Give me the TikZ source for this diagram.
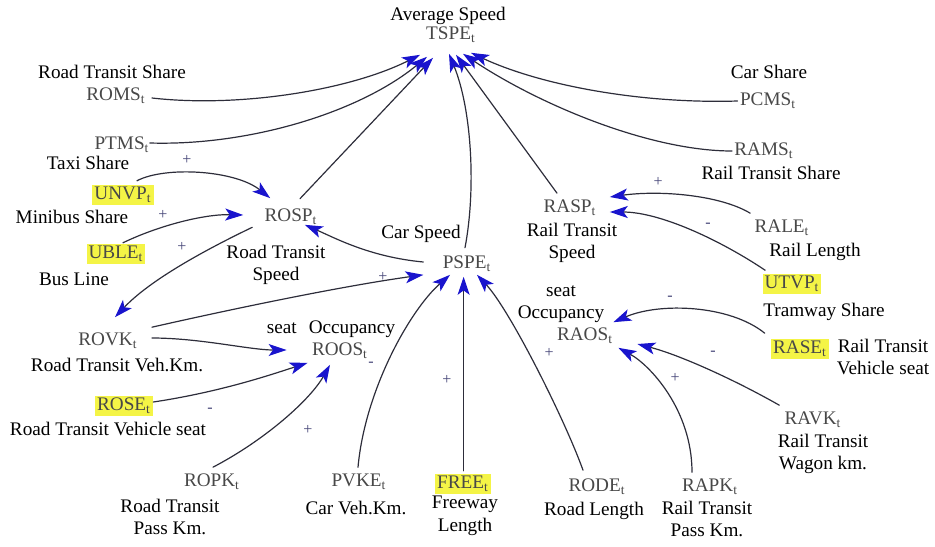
\documentclass[tikz,border=0pt]{standalone}
\usepackage{fontspec}
\setmainfont{Liberation Serif}
\usetikzlibrary{arrows.meta}
\definecolor{linkc}{RGB}{45,45,58}
\definecolor{tipc}{RGB}{25,20,205}
\definecolor{hl}{RGB}{244,244,70}
\definecolor{codc}{RGB}{72,72,72}
\definecolor{sgnc}{RGB}{70,70,120}
\newcommand{\vt}[1]{#1\textsubscript{t}}

\begin{document}
\begin{tikzpicture}[x=0.5pt, y=-0.5pt, font=\fontsize{9.6}{11.3}\selectfont, line join=round, line cap=round,
	>={Stealth[length=9pt, width=6pt, inset=2.2pt, color=tipc]},
	var/.style={text=codc, inner sep=1pt},
	hlvar/.style={var, fill=hl},
	desc/.style={align=center, inner sep=1pt},
	sgn/.style={text=sgnc, font=\fontsize{8}{9}\selectfont, inner sep=0pt},
	link/.style={->, draw=linkc, line width=0.6pt}]
	\useasboundingbox (0,0) rectangle (935,546);
	% --- variables
	\node[var] (tspe) at (451,35) {\vt{TSPE}};
	\node[var] (roms) at (116,96) {\vt{ROMS}};
	\node[var] (ptms) at (122,145) {\vt{PTMS}};
	\node[hlvar] (unvp) at (123,195) {\vt{UNVP}};
	\node[hlvar] (uble) at (116,254) {\vt{UBLE}};
	\node[var] (rosp) at (291,217) {\vt{ROSP}};
	\node[var] (pspe) at (467,264) {\vt{PSPE}};
	\node[var] (rovk) at (108,341) {\vt{ROVK}};
	\node[var] (roos) at (340,351) {\vt{ROOS}};
	\node[hlvar] (rose) at (124,406) {\vt{ROSE}};
	\node[var] (ropk) at (212,482) {\vt{ROPK}};
	\node[var] (pvke) at (359,482) {\vt{PVKE}};
	\node[hlvar] (free) at (463,484) {\vt{FREE}};
	\node[var] (rode) at (597,487) {\vt{RODE}};
	\node[var] (rapk) at (710,487) {\vt{RAPK}};
	\node[var] (ravk) at (813,420) {\vt{RAVK}};
	\node[hlvar] (rase) at (800,349) {\vt{RASE}};
	\node[var] (raos) at (585,336) {\vt{RAOS}};
	\node[hlvar] (utvp) at (792,284) {\vt{UTVP}};
	\node[var] (rale) at (782,228) {\vt{RALE}};
	\node[var] (rasp) at (570,208) {\vt{RASP}};
	\node[var] (rams) at (764,151) {\vt{RAMS}};
	\node[var] (pcms) at (768,101) {\vt{PCMS}};
	% --- descriptions
	\node[desc] (avg) at (448,16) {Average Speed};
	\node[desc] (romsd) at (112,72) {Road Transit Share};
	\node[desc] (ptmsd) at (88,163) {Taxi Share};
	\node[desc] (unvpd) at (72,217) {Minibus Share};
	\node[desc] (ubled) at (74,279) {Bus Line};
	\node[desc] (rospd) at (276,265) {Road Transit\\Speed};
	\node[desc] (psped) at (421,234) {Car Speed};
	\node[desc] (rovkd) at (117,365) {Road Transit Veh.Km.};
	\node[desc] (roosd) at (331,329) {seat\hspace{6pt}Occupancy};
	\node[desc] (rosed) at (108,429) {Road Transit Vehicle seat};
	\node[desc] (ropkd) at (170,517) {Road Transit\\Pass Km.};
	\node[desc] (pvked) at (356,508) {Car Veh.Km.};
	\node[desc] (freed) at (465,516) {Freeway\\Length};
	\node[desc] (roded) at (594,511) {Road Length};
	\node[desc] (rapkd) at (707,519) {Rail Transit\\Pass Km.};
	\node[desc] (ravkd) at (823,454) {Rail Transit\\Wagon km.};
	\node[desc] (rased) at (883,357) {Rail Transit\\Vehicle seat};
	\node[desc] (raosd) at (561,304) {seat\\Occupancy};
	\node[desc] (utvpd) at (824,312) {Tramway Share};
	\node[desc] (raled) at (815,252) {Rail Length};
	\node[desc] (raspd) at (572,243) {Rail Transit\\Speed};
	\node[desc] (ramsd) at (771,173) {Rail Transit Share};
	\node[desc] (pcmsd) at (769,72) {Car Share};
	% --- signs
	\foreach \x/\y/\s [count=\i] in {187/160/+, 163/215/+, 182/247/+, 383/277/+, 371/364/-, 210/410/-, 308/430/+,
		447/380/+, 549/353/+, 675/378/+, 713/353/-, 670/298/-, 708/225/-, 658/182/+}
		\node[sgn] (s\i) at (\x,\y) {\s};
	% --- links into TSPE
	\draw[link] ([shift={(4,2)}]roms.east) .. controls (240,108) and (350,90) .. ([shift={(-31,9.5)}]tspe.south);
	\draw[link] ([shift={(-2,-2)}]ptms.east) .. controls (250,146) and (360,112) .. ([shift={(-24,11.5)}]tspe.south);
	\draw[link] ([shift={(9,-8)}]rosp.north) -- ([shift={(-18,12.5)}]tspe.south);
	\draw[link] ([shift={(-2,-6)}]pspe.north) .. controls (476,190) and (472,110) .. ([shift={(-2,8.5)}]tspe.south);
	\draw[link] ([shift={(-13,-4.5)}]rasp.north) -- ([shift={(5,9.5)}]tspe.south);
	\draw[link] (rams.west) .. controls (650,151) and (540,105) .. ([shift={(12,8.5)}]tspe.south);
	\draw[link] (pcms.west) .. controls (640,104) and (540,85) .. ([shift={(20,7.5)}]tspe.south);
	% --- road transit side
	\draw[link] ([shift={(14,-4)}]unvp.north) .. controls (165,166) and (235,170) .. ([shift={(8,-8.5)}]rosp.north west);
	\draw[link] ([shift={(7,-1)}]uble.north) .. controls (160,225) and (205,214) .. ([shift={(-19,-2)}]rosp.west);
	\draw[link] ([shift={(-10,0)}]rosp.south west) .. controls (205,250) and (150,280) .. ([shift={(7,-13.5)}]rovk.north);
	\draw[link] ([shift={(-17,-2)}]pspe.west) .. controls (370,257) and (335,238) .. ([shift={(-15,-2.5)}]rosp.south east);
	\draw[link] ([shift={(12,-3.5)}]rovk.north east) .. controls (250,305) and (350,285) .. ([shift={(-17,0.5)}]pspe.south west);
	\draw[link] ([shift={(12,-3)}]rovk.east) .. controls (200,338) and (250,350) .. ([shift={(-23,-1)}]roos.west);
	\draw[link] ([shift={(0,-4)}]rose.east) .. controls (220,392) and (270,375) .. ([shift={(-2,1.5)}]roos.south west);
	\draw[link] ([shift={(1,-4.5)}]ropk.north) .. controls (265,440) and (310,400) .. ([shift={(-10,3.5)}]roos.south);
	% --- into PSPE
	\draw[link] ([shift={(-1,-4.5)}]pvke.north) .. controls (365,390) and (410,310) .. ([shift={(-17,0.5)}]pspe.south);
	\draw[link] ([shift={(0.6,-3)}]free.north) -- ([shift={(-3.4,2.5)}]pspe.south);
	\draw[link] ([shift={(-14,-6.5)}]rode.north) .. controls (565,420) and (510,310) .. ([shift={(10,0.5)}]pspe.south);
	% --- rail transit side
	\draw[link] ([shift={(-18,-4.5)}]rapk.north) .. controls (692,410) and (650,365) .. ([shift={(3,1.5)}]raos.south east);
	\draw[link] ([shift={(-3,-4.5)}]ravk.north west) .. controls (735,380) and (680,355) .. ([shift={(22,8)}]raos.east);
	\draw[link] ([shift={(-6,-5.5)}]rase.north west) .. controls (730,305) and (660,302) .. ([shift={(-2,-3.5)}]raos.north east);
	\draw[link] ([shift={(-2,-4.5)}]rale.north west) .. controls (720,195) and (660,190) .. ([shift={(11,-11)}]rasp.east);
	\draw[link] ([shift={(3,-3.5)}]utvp.north west) .. controls (720,240) and (660,212) .. ([shift={(11,4)}]rasp.east);
\end{tikzpicture}
\end{document}
